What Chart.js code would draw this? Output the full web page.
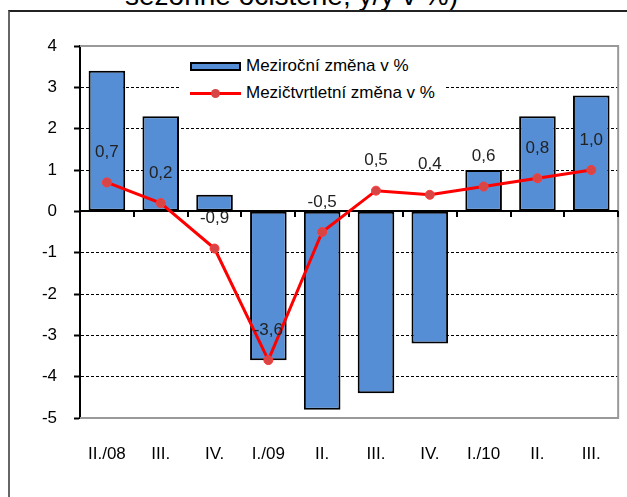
<!DOCTYPE html>
<html>
<head>
<meta charset="utf-8">
<script src="https://cdn.jsdelivr.net/npm/chart.js@4"></script>
<style>
  html, body { margin: 0; padding: 0; background: #fff; overflow: hidden; }
  body { width: 627px; height: 497px; position: relative; font-family: "Liberation Sans", Arial, sans-serif; }
  #title { position: absolute; left: 125px; top: -18px; font-size: 28px; line-height: 28px; white-space: nowrap; color: #000; }
  #frame { position: absolute; left: 8px; top: 10px; width: 660px; height: 540px;
           border-top: 2px solid #222; border-left: 2px solid #666; }
  #chart { position: absolute; left: 0; top: 0; }
  #legend { position: absolute; left: 180px; top: 52px; width: 265px; height: 54px; background: #fff;
            font-size: 17px; color: #000; }
  #legend .row { height: 27px; line-height: 27px; padding-left: 10px; white-space: nowrap; }
  #legend .sw { display: inline-block; width: 51px; margin-right: 5px; vertical-align: middle; position: relative; }
  #legend .bar { height: 9px; box-sizing: border-box; background: #558ed5; border: 2px solid #000; }
  #legend .line { height: 3px; background: #ff0000; }
  #legend .line i { position: absolute; left: 21px; top: -3px; width: 9px; height: 9px; border-radius: 50%;
                    background: #d84545; }
</style>
</head>
<body>
<div id="title">sezónně očištěné, y/y v %)</div>
<div id="frame"></div>
<canvas id="chart" width="627" height="497"></canvas>
<div id="legend">
  <div class="row"><span class="sw bar"></span>Meziroční změna v %</div>
  <div class="row"><span class="sw line"><i></i></span>Mezičtvrtletní změna v %</div>
</div>
<script>
// čtvrtletí
const ctvrtleti = ['II./08', 'III.', 'IV.', 'I./09', 'II.', 'III.', 'IV.', 'I./10', 'II.', 'III.'];
// meziroční změna v % (sloupce)
const mezirocni = [3.4, 2.3, 0.4, -3.6, -4.8, -4.4, -3.2, 1.0, 2.3, 2.8];
// mezičtvrtletní změna v % (čára)
const mezictvrtletni = [0.7, 0.2, -0.9, -3.6, -0.5, 0.5, 0.4, 0.6, 0.8, 1.0];

const FONT = { family: '"Liberation Sans", Arial, sans-serif', size: 17 };
const fmt = v => v.toFixed(1).replace('.', ',');

// rámeček plochy, nulová osa a značky na ní
const extras = {
  id: 'extras',
  beforeDatasetsDraw(chart) {
    const { ctx, chartArea: a, scales: { x, y } } = chart;
    ctx.save();
    ctx.strokeStyle = '#999';
    ctx.lineWidth = 2;
    ctx.beginPath();
    ctx.moveTo(a.left, a.top);
    ctx.lineTo(a.right, a.top);
    ctx.lineTo(a.right, a.bottom);
    ctx.lineTo(a.left, a.bottom);
    ctx.stroke();

    const y0 = Math.round(y.getPixelForValue(0));
    ctx.strokeStyle = '#000';
    ctx.beginPath();
    ctx.moveTo(a.left, y0);
    ctx.lineTo(a.right, y0);
    const w = (a.right - a.left) / ctvrtleti.length;
    for (let i = 1; i <= ctvrtleti.length; i++) {
      const px = Math.round(x.getPixelForValue(i - 1) + w / 2);
      ctx.moveTo(px, y0);
      ctx.lineTo(px, y0 + 6);
    }
    ctx.stroke();
    ctx.restore();
  },
  afterDatasetsDraw(chart) {
    const { ctx } = chart;
    const meta = chart.getDatasetMeta(1);
    ctx.save();
    ctx.font = FONT.size + 'px ' + FONT.family;
    ctx.fillStyle = '#222';
    ctx.textAlign = 'center';
    ctx.textBaseline = 'middle';
    meta.data.forEach((p, i) => {
      ctx.fillText(fmt(mezictvrtletni[i]), p.x, p.y - 30);
    });
    ctx.restore();
  }
};

new Chart(document.getElementById('chart'), {
  data: {
    labels: ctvrtleti,
    datasets: [
      {
        type: 'bar',
        label: 'Meziroční změna v %',
        data: mezirocni,
        backgroundColor: '#558ed5',
        borderColor: '#000',
        borderWidth: 2,
        borderSkipped: false,
        barPercentage: 0.68,
        categoryPercentage: 1,
        order: 2
      },
      {
        type: 'line',
        label: 'Mezičtvrtletní změna v %',
        data: mezictvrtletni,
        borderColor: '#ff0000',
        borderWidth: 3,
        pointRadius: 4.5,
        pointBackgroundColor: '#d84545',
        pointBorderColor: '#ff3a3a',
        pointBorderWidth: 1,
        tension: 0,
        order: 1
      }
    ]
  },
  options: {
    responsive: false,
    animation: false,
    layout: { padding: { top: 46, right: 6, left: 0, bottom: 0 } },
    plugins: {
      legend: { display: false },
      title: { display: false },
      tooltip: { enabled: false }
    },
    scales: {
      x: {
        offset: true,
        grid: { display: false, drawTicks: false },
        border: { display: false },
        ticks: { color: '#000', font: FONT, padding: 26, maxRotation: 0, autoSkip: false },
        afterFit: s => { s.height = 79; }
      },
      y: {
        min: -5,
        max: 4,
        ticks: { stepSize: 1, color: '#000', font: FONT, padding: 17 },
        grid: {
          color: c => (c.tick.value === 0 || c.tick.value === 4 || c.tick.value === -5) ? 'rgba(0,0,0,0)' : '#000',
          lineWidth: 1,
          tickLength: 6,
          tickColor: '#000',
          tickWidth: 2,
          tickBorderDash: []
        },
        border: { display: true, color: '#000', width: 2, dash: [3, 2] },
        afterFit: s => { s.width = 80; }
      }
    }
  },
  plugins: [extras]
});
</script>
</body>
</html>
